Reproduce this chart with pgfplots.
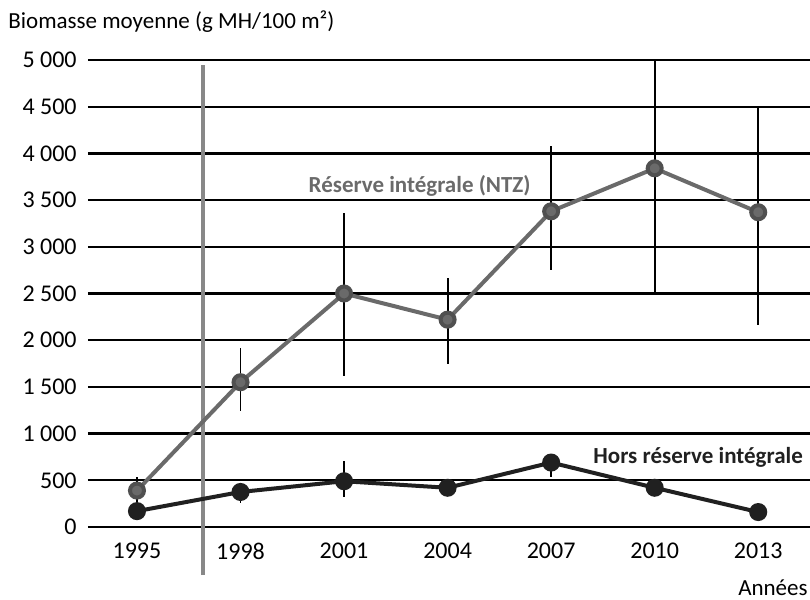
\documentclass[border=0pt]{standalone}
\usepackage{pgfplots}
\pgfplotsset{compat=1.18}
\usepackage{pgfplotstable}
\usepackage{fontspec}
\setmainfont{Carlito}
\definecolor{ntz}{HTML}{6A6A6A}
\definecolor{ntzdark}{HTML}{505050}
\definecolor{vline}{HTML}{888888}
\definecolor{hors}{HTML}{202020}
\pgfplotstableread{
x y ep em
0 390 145 120
1 1550 370 310
2 2500 860 880
3 2220 450 470
4 3380 700 630
5 3840 1160 1340
6 3370 1130 1210
}\ntzdata
\pgfplotstableread{
x y ep em
0 170 40 40
1 375 60 120
2 490 220 170
3 420 50 90
4 690 60 160
5 420 30 90
6 160 0 0
}\horsdata
\begin{document}
\begin{tikzpicture}
\begin{axis}[
  scale only axis,
  width=361pt, height=233.5pt,
  xmin=-0.473, xmax=6.5,
  ymin=0, ymax=5000,
  clip=false,
  xtick={0,...,6},
  xticklabels={1995,1998,2001,2004,2007,2010,2013},
  ytick={0,500,...,5000},
  scaled y ticks=false,
  /pgf/number format/.cd, assume math mode=true, 1000 sep={\ },
  /pgfplots/.cd,
  ymajorgrids,
  major grid style={black, line width=1.1pt},
  axis line style={draw=none},
  tick style={draw=none},
  major tick length=0pt,
  ticklabel style={font=\fontsize{12}{14}\selectfont},
  yticklabel style={inner sep=0pt, xshift=-5.5pt},
  xticklabel style={inner sep=0pt, anchor=north, yshift=-8pt},
]
\addplot[vline, line width=1.7pt, forget plot] coordinates {(0.638,-514) (0.638,4946)};
\addplot[ntz, line width=2pt, mark=*, mark size=3.5pt,
  mark options={fill=ntz, draw=ntzdark},
  error bars/.cd, y dir=both, y explicit, error mark=none,
  error bar style={black, line width=0.9pt}]
  table[x=x, y=y, y error plus=ep, y error minus=em] {\ntzdata};
\addplot[hors, line width=2pt, mark=*, mark size=3.5pt,
  mark options={fill=hors, draw=hors},
  error bars/.cd, y dir=both, y explicit, error mark=none,
  error bar style={black, line width=0.9pt}]
  table[x=x, y=y, y error plus=ep, y error minus=em] {\horsdata};
\node[text=ntz, font=\bfseries\fontsize{11.5}{13}\selectfont] at (axis cs:2.73,3650) {Réserve intégrale (NTZ)};
\node[text=hors, anchor=east, inner sep=0pt, font=\bfseries\fontsize{11.5}{13}\selectfont] at (axis cs:6.435,750) {Hors réserve intégrale};
\end{axis}
\node[anchor=west, inner sep=0pt, font=\fontsize{11.5}{13}\selectfont] at ([xshift=-40pt, yshift=19pt]current axis.north west) {Biomasse moyenne (g MH/100 m²)};
\node[anchor=east, inner sep=0pt, font=\fontsize{11.5}{13}\selectfont] at ([xshift=-1pt, yshift=-30.5pt]current axis.south east) {Années};
\pgfresetboundingbox
\path[use as bounding box] ([xshift=-44pt, yshift=-36.5pt]current axis.south west) rectangle ++(405pt,300pt);
\end{tikzpicture}
\end{document}
